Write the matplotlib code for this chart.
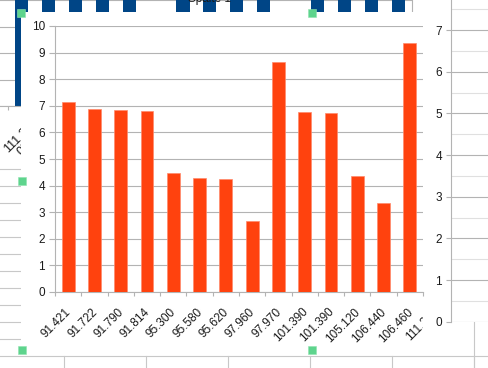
import matplotlib.pyplot as plt
from matplotlib.patches import Rectangle
from matplotlib.transforms import Bbox, blended_transform_factory, offset_copy

plt.rcParams['font.family'] = ['Liberation Sans', 'DejaVu Sans']

W, H = 489, 368

# main chart (orange series)
categories = ['91.421', '91.722', '91.790', '91.814', '95.300', '95.580', '95.620',
              '97.960', '97.970', '101.390', '101.390', '105.120', '106.440', '106.460',
              '111.208']
values = [7.13, 6.88, 6.83, 6.80, 4.47, 4.27, 4.26,
          2.67, 8.63, 6.75, 6.72, 4.36, 3.33, 9.35]
y_ticks = list(range(0, 11))

# chart lying behind it (blue series, only its edges show)
bg_values = [5, 5, 5, 5, 5, 3, 5, 5, 5, 5, 3, 5, 5, 5, 5]
bg_y_ticks = [0, 1, 2, 3, 4]
right_ticks = list(range(0, 8))

ORANGE = '#ff420e'
BLUE = '#004586'
GRID = '#b3b3b3'
TXT = '#1a1a1a'


def box(x0, y0, x1, y1):
    # pixel box (top-left origin) -> figure fraction
    return [x0 / W, 1 - y1 / H, (x1 - x0) / W, (y1 - y0) / H]


fig = plt.figure(figsize=(W / 100, H / 100), dpi=100)
fig.patch.set_facecolor('white')

# spreadsheet cell lines
deco = fig.add_axes([0, 0, 1, 1], zorder=0)
deco.set_xlim(0, W)
deco.set_ylim(H, 0)
deco.axis('off')
deco.axhline(355.5, color='#c8c8c8', lw=0.8)
for x in [63.5, 145.5, 227.5, 309.5, 391.5, 473.5]:
    deco.plot([x, x], [355.5, H], color='#c8c8c8', lw=0.8)
deco.plot([473.5, 473.5], [322, H], color='#c8c8c8', lw=0.8)
y = 168.5
while y < 356:
    deco.plot([0, 20], [y, y], color='#c8c8c8', lw=0.8)
    y += 17.05

# blue chart behind
bg = fig.add_axes(box(0, 0, 411.65, 106), zorder=1)
bg.bar(range(len(bg_values)), bg_values, width=0.49, color=BLUE)
bg.set_xlim(-0.8, 14.5)
bg.set_ylim(0, 4)
bg.set_yticks(bg_y_ticks)
bg.yaxis.grid(True, color=GRID, lw=0.8)
bg.set_axisbelow(True)
bg.set_xticks([i - 0.5 for i in range(15)])
bg.set_xticklabels([])
bg.tick_params(axis='x', length=3, color=GRID)
bg.tick_params(axis='y', length=0, labelleft=False)
for s in ['top', 'left']:
    bg.spines[s].set_visible(False)
for s in ['bottom', 'right']:
    bg.spines[s].set_color(GRID)
bg.text(0.66, -0.19, '111.2\n08', transform=blended_transform_factory(bg.transData, bg.transAxes),
        rotation=45, ha='right', va='top', fontsize=9, color=TXT, clip_on=False,
        multialignment='center', linespacing=1.0)
fig.text(210 / W, 1 + 1 / H, 'Spalte 1', ha='center', va='center', fontsize=8.5, color=TXT,
         zorder=1.5)

# grey chart on the right
rax = fig.add_axes(box(451, 0, 560, 321.7), zorder=1)
rax.set_ylim(0, 321.7 / 41.67)
rax.set_yticks(right_ticks)
rax.set_yticks([t + 0.5 for t in right_ticks], minor=True)
rax.set_xticks([])
rax.yaxis.grid(True, which='major', color=GRID, lw=0.8)
rax.yaxis.grid(True, which='minor', color='#e0e0e0', lw=0.8)
rax.tick_params(axis='y', which='major', length=3.6, color=GRID, labelsize=8.5, labelcolor=TXT, pad=3)
rax.tick_params(axis='y', which='minor', length=0)
for s in ['top', 'right', 'bottom']:
    rax.spines[s].set_visible(False)
rax.spines['left'].set_color(GRID)

# white area of the selected chart object
fig.add_artist(Rectangle((21 / W, 1 - 350 / H), (423 - 21) / W, (350 - 12) / H,
                         transform=fig.transFigure, facecolor='white', edgecolor='none', zorder=2))

# main chart
ax = fig.add_axes(box(55, 26, 423, 292), zorder=3)
ax.patch.set_alpha(0)
ax.bar(range(len(values)), values, width=0.49, color=ORANGE, edgecolor='#ff8a6c', linewidth=0.5,
       zorder=3)
ax.set_xlim(-0.5, 13.13)
ax.set_ylim(0, 10)
ax.set_yticks(y_ticks)
ax.yaxis.grid(True, color=GRID, lw=0.8)
ax.set_axisbelow(True)
ax.set_xticks([i - 0.5 for i in range(15)])
ax.set_xticklabels([])
ax.tick_params(axis='x', length=3, color=GRID, width=0.8)
ax.tick_params(axis='y', length=4.3, color=GRID, width=0.8, labelsize=8.5, labelcolor=TXT, pad=3)
for s in ['top', 'right']:
    ax.spines[s].set_visible(False)
for s in ['left', 'bottom']:
    ax.spines[s].set_color(GRID)
    ax.spines[s].set_linewidth(0.8)

lab_tr = offset_copy(blended_transform_factory(ax.transData, ax.transAxes), fig=fig,
                     x=0, y=-10, units='points')
clip = Bbox.from_extents(0, 0, 423, H)
for i, lab in enumerate(categories):
    t = ax.text(i + 0.2, 0, lab, transform=lab_tr, rotation=45, ha='right', va='top',
                fontsize=8.5, color=TXT)
    t.set_clip_path(None)
    t.set_clip_box(clip)
    t.set_clip_on(True)

# selection handles
front = fig.add_axes([0, 0, 1, 1], zorder=5)
front.set_xlim(0, W)
front.set_ylim(H, 0)
front.axis('off')
front.scatter([21, 311.5, 21.5, 21.5, 311.5], [12.5, 12.5, 181, 350, 350], marker='s', s=26,
              color='#5ed48d', edgecolors='#8fe3b0', linewidths=0.4, clip_on=False)

fig.savefig('out.png', dpi=100)
